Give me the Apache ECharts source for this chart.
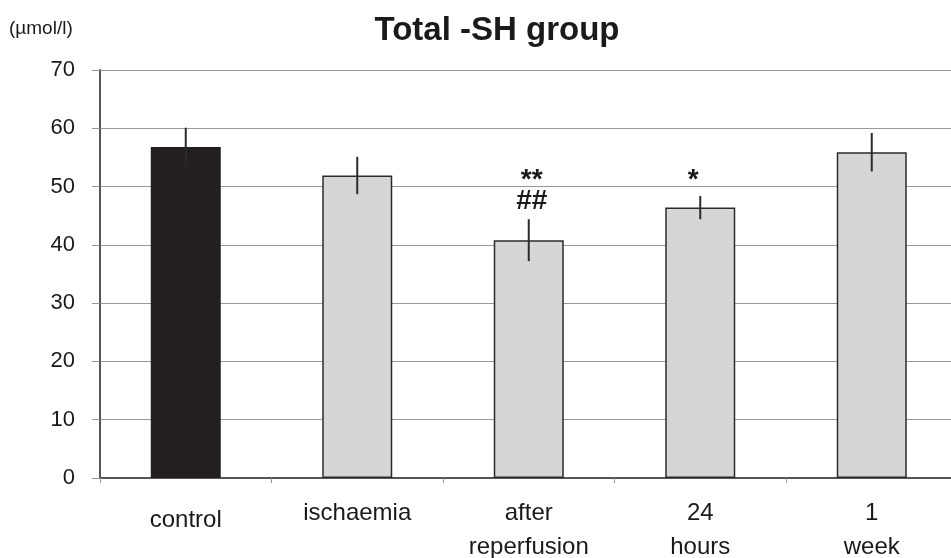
<!DOCTYPE html>
<html>
<head>
<meta charset="utf-8">
<script src="https://cdn.jsdelivr.net/npm/echarts@6/dist/echarts.min.js"></script>
<style>html,body{margin:0;padding:0;background:#fff;}#c{width:951px;height:558px;}</style>
</head>
<body>
<div id="c"></div>
<script>
// ---- data ----
var categories = ['control', 'ischaemia', 'after\nreperfusion', '24\nhours', '1\nweek'];
var means = [56.8, 51.9, 40.8, 46.4, 55.9];
var errors = [3.3, 3.2, 3.6, 2.0, 3.3];
var sigTop = ['', '', '**', '*', ''];
var sigTopVal = [null, null, 51.0, 51.0, null];
var sigBottom = ['', '', '##', '', ''];
var sigBottomVal = [null, null, 47.4, null, null];
var yTicks = [0, 10, 20, 30, 40, 50, 60, 70];
var titleText = 'Total -SH group';
var unitText = '(\u00b5mol/l)';

var FONT = '"Liberation Sans", Arial, sans-serif';
var chart = echarts.init(document.getElementById('c'));

var barData = means.map(function (v, i) {
  return {
    value: v,
    itemStyle: i === 0 ? { color: '#231f20', borderColor: '#231f20' } : { color: '#d5d6d8', borderColor: '#2b2b2b' }
  };
});
var errData = means.map(function (v, i) { return [i, v - errors[i], v + errors[i]]; });
var sigData = [];
sigTop.forEach(function (t, i) { if (t) sigData.push([i, sigTopVal[i], t]); });
sigBottom.forEach(function (t, i) { if (t) sigData.push([i, sigBottomVal[i], t]); });

chart.setOption({
  animation: false,
  backgroundColor: '#fff',
  graphic: [
    { type: 'text', x: 497, y: 31, style: { text: titleText, align: 'center', verticalAlign: 'middle', fontSize: 33, fontWeight: 'bold', fontFamily: FONT, fill: '#1a1a1a' } },
    { type: 'text', x: 9, y: 29, style: { text: unitText, align: 'left', verticalAlign: 'middle', fontSize: 19, fontFamily: FONT, fill: '#1a1a1a' } }
  ],
  grid: { left: 100, right: -6.5, top: 70, bottom: 80, containLabel: false, outerBoundsMode: 'none' },
  xAxis: {
    type: 'category',
    data: categories.map(function (c, i) {
      return i === 0 ? { value: c, textStyle: { padding: [7, 0, 0, 0] } } : c;
    }),
    axisLine: { show: true, lineStyle: { color: '#555', width: 2 } },
    axisTick: { show: true, alignWithLabel: false, length: 5, lineStyle: { color: '#999', width: 1 } },
    axisLabel: { interval: 0, margin: 18, color: '#1a1a1a', fontSize: 24, fontFamily: FONT, lineHeight: 34 },
    splitLine: { show: false }
  },
  yAxis: {
    type: 'value', min: 0, max: 70, interval: 10,
    axisLine: { show: true, lineStyle: { color: '#555', width: 2 } },
    axisTick: { show: true, inside: false, length: 8, lineStyle: { color: '#999', width: 1 } },
    axisLabel: { margin: 25, color: '#1a1a1a', fontSize: 22, fontFamily: FONT,
      formatter: function (v) { return yTicks.indexOf(v) >= 0 ? String(v) : ''; } },
    splitLine: { show: true, lineStyle: { color: '#999', width: 1 } }
  },
  series: [
    {
      type: 'bar', data: barData, barWidth: 70,
      itemStyle: { borderWidth: 1.5 }, z: 2
    },
    {
      type: 'custom', data: errData, z: 3,
      renderItem: function (params, api) {
        var lo = api.coord([api.value(0), api.value(1)]);
        var hi = api.coord([api.value(0), api.value(2)]);
        return { type: 'line', shape: { x1: lo[0], y1: lo[1], x2: hi[0], y2: hi[1] }, style: { stroke: '#2b2b2b', lineWidth: 2 } };
      }
    },
    {
      type: 'custom', data: sigData, z: 4,
      renderItem: function (params, api) {
        var p = api.coord([api.value(0), api.value(1)]);
        var t = sigData[params.dataIndex][2];
        var dx = t === '*' ? -7 : 3;
        return { type: 'text', x: p[0] + dx, y: p[1], style: { text: t, align: 'center', verticalAlign: 'middle', fontSize: 28, fontWeight: 'bold', fontFamily: FONT, fill: '#1a1a1a' } };
      }
    }
  ]
});
</script>
</body>
</html>
